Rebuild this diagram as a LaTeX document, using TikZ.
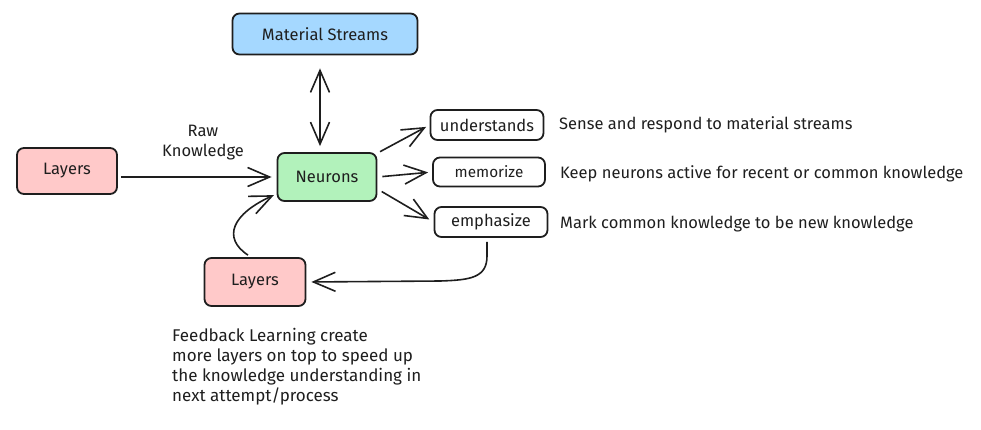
\documentclass[tikz,border=0pt]{standalone}
\usepackage{fontspec}
\setmainfont{Fira Sans}
\usetikzlibrary{arrows.meta}
\definecolor{ink}{HTML}{1E1E1E}
\definecolor{blueF}{HTML}{A5D8FF}
\definecolor{redF}{HTML}{FFC9C9}
\definecolor{greenF}{HTML}{B2F2BB}
\tikzset{
  box/.style={draw=ink, line width=1.8pt, rounded corners=7pt, inner sep=0pt, font=\fontsize{16.5}{18}\selectfont, text=ink},
  lbl/.style={font=\fontsize{16.5}{20}\selectfont, text=ink, inner sep=0pt},
  tip/.tip={Straight Barb[length=22pt,width=19pt,line width=1.6pt]},
  arr/.style={draw=ink, line width=1.6pt, -tip},
  dbl/.style={draw=ink, line width=1.6pt, tip-tip}
}
\begin{document}
\begin{tikzpicture}[x=1pt,y=-1pt]
\useasboundingbox (0,0) rectangle (981,429);
\node[box, fill=blueF, minimum width=185pt, minimum height=41pt] (ms) at (325,34) {Material Streams};
\node[box, fill=redF, minimum width=100pt, minimum height=46pt] (l1) at (67,171) {Layers};
\node[box, fill=greenF, minimum width=99pt, minimum height=48pt] (neu) at (327,177) {Neurons};
\node[box, minimum width=113pt, minimum height=30pt] (und) at (487,125) {understands};
\node[box, minimum width=112pt, minimum height=29pt, font=\fontsize{15.3}{16}\selectfont] (mem) at (489,172) {memorize};
\node[box, minimum width=113pt, minimum height=30pt] (emp) at (491,222) {emphasize};
\node[box, fill=redF, minimum width=101pt, minimum height=48pt] (l2) at (255,282) {Layers};

\node[lbl, align=center] (raw) at (203,143) {Raw\\Knowledge};
\node[lbl, anchor=west] (d1) at (559,125) {Sense and respond to material streams};
\node[lbl, anchor=west] (d2) at (560,174) {Keep neurons active for recent or common knowledge};
\node[lbl, anchor=west] (d3) at (560,224) {Mark common knowledge to be new knowledge};
\node[lbl, anchor=north west, align=left, font=\fontsize{17}{20}\selectfont] (fb) at (172,328) {Feedback Learning create\\more layers on top to speed up\\the knowledge understanding in\\next attempt/process};

\draw[dbl, shorten <=13pt, shorten >=6pt] ([xshift=-5pt]ms.south) -- ([xshift=-7pt]neu.north);
\draw[arr, shorten <=3pt, shorten >=5pt] ([yshift=-6pt]l1.east) -- (neu.west);
\draw[arr, shorten <=3pt, shorten >=4pt] ([yshift=-1pt]neu.north east) -- (und.west);
\draw[arr, shorten <=5pt, shorten >=4pt] (neu.east) -- (mem.west);
\draw[arr, shorten <=5pt, shorten >=5pt] ([yshift=-12pt]neu.east) -- (emp.west);
\draw[arr, shorten >=3pt] ([xshift=-7pt,yshift=2pt]l2.north) .. controls (222,238) and (232,214) .. ([yshift=8pt]neu.south west);
\draw[arr, shorten >=5pt] ([xshift=-4pt,yshift=-4pt]emp.south) -- ++(0,14) .. controls (487,278) and (470,280) .. (440,281) -- (l2.east);
\end{tikzpicture}
\end{document}
